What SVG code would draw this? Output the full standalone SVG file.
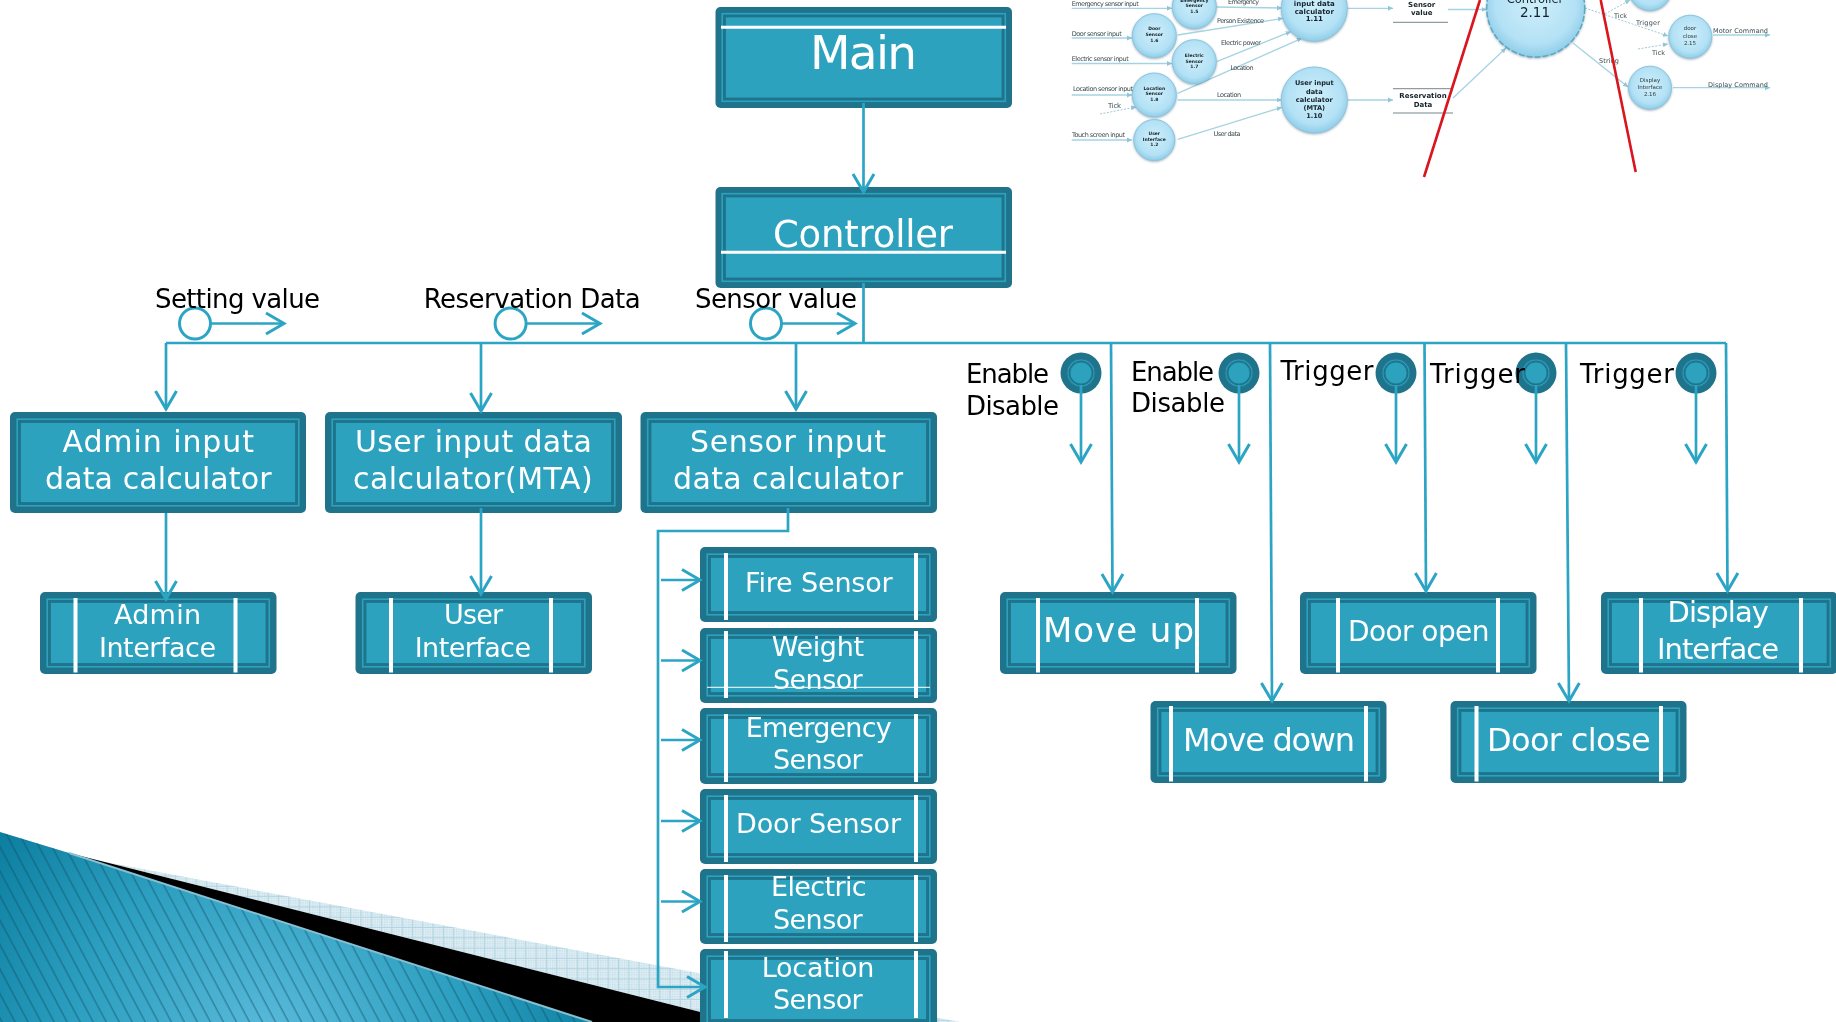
<svg xmlns="http://www.w3.org/2000/svg" width="1836" height="1022" viewBox="0 0 1836 1022">
<style>
text{font-family:"DejaVu Sans","Liberation Sans",sans-serif}
.o{fill:#1f748c}.b{fill:#2ca2bf;stroke:#1f748c;stroke-width:.8}.d{fill:#1f748c}.f{fill:#2ca2bf;stroke:#1f748c;stroke-width:.8}
.w{stroke:#fff;stroke-width:4;fill:none}
.n text{fill:#fff;font-size:27px}
.k{fill:#000;font-size:26px}
.c{fill:none;stroke:#2ca5c4;stroke-width:2.700}
.a{marker-end:url(#v)}
.t text{fill:#3c4a4e;font-size:6.500px}
.t .h{fill:#14222a;font-weight:bold;text-anchor:middle}
.t .m{fill:#2c3a40;text-anchor:middle;font-size:5.500px}
.ta{fill:none;stroke:#a5d3e2;stroke-width:1.300;marker-end:url(#tv)}
.td{fill:none;stroke:#9cc8da;stroke-width:1;stroke-dasharray:2 1.500;marker-end:url(#tv)}
.bb{fill:url(#bub);stroke:#8cc6de;stroke-width:1;filter:drop-shadow(.8px 1.5px 1px rgba(40,70,90,.4))}
.r{stroke:#d8131f;stroke-width:2.600;fill:none}
</style>
<defs>
<marker id="v" markerUnits="userSpaceOnUse" markerWidth="24" markerHeight="28" refX="20" refY="13" orient="auto"><path d="M2 2.500L20 13L2 23.500" fill="none" stroke="#2ca5c4" stroke-width="3"/></marker>
<marker id="tv" markerUnits="userSpaceOnUse" markerWidth="6" markerHeight="6" refX="5" refY="3" orient="auto"><path d="M0 .5L5 3L0 5.500z" fill="#8fc6d9"/></marker>
<radialGradient id="bub" cx=".5" cy=".45" r=".55"><stop offset="0" stop-color="#cfeffb"/><stop offset=".75" stop-color="#b3e1f5"/><stop offset="1" stop-color="#8fcde9"/></radialGradient>
<radialGradient id="wedge" gradientUnits="userSpaceOnUse" cx="270" cy="1045" r="350"><stop offset="0" stop-color="#5cbbdb"/><stop offset=".55" stop-color="#2d9fc0"/><stop offset="1" stop-color="#0a7c9d"/></radialGradient>
<pattern id="stripes" width="11.500" height="40" patternUnits="userSpaceOnUse" patternTransform="rotate(-28)"><path d="M5 0V40" stroke="#0d4f66" stroke-opacity=".5" stroke-width="1.400"/></pattern>
<pattern id="hatch" width="10.300" height="10.300" patternUnits="userSpaceOnUse"><rect width="10.300" height="10.300" fill="#dcecf2"/><path d="M0 .5H10.300M.5 0V10.300" stroke="#b4d5e3" stroke-width="1"/></pattern>
<pattern id="dots" width="2.400" height="2.400" patternUnits="userSpaceOnUse"><rect width="1.200" height="1.200" fill="#a9cfdd" fill-opacity=".55"/></pattern>
<filter id="blur" x="-2%" y="-2%" width="104%" height="104%"><feGaussianBlur stdDeviation=".55"/></filter>
</defs>

<g id="background">
<polygon points="105,862 960,1022 740,1022" fill="url(#hatch)"/>
<polygon points="105,862 960,1022 740,1022" fill="url(#dots)"/>
<polygon points="69,853 740,1022 592,1022" fill="#000"/>
<polygon points="0,832 69,853 592,1022 0,1022" fill="url(#wedge)"/>
<polygon points="0,832 69,853 592,1022 0,1022" fill="url(#stripes)"/>
<path d="M69 853L592 1022" stroke="#86c0d2" stroke-width="2" fill="none"/>
</g>

<g id="thumbnail" class="t" filter="url(#blur)">
<path class="ta" d="M1071.700 8.300H1172"/><path class="ta" d="M1071.700 38H1132"/><path class="ta" d="M1071.700 63.500H1172"/><path class="ta" d="M1071.700 95H1132"/><path class="ta" d="M1071.700 140H1132"/>
<path class="td" d="M1100 114L1136 107"/>
<path class="ta" d="M1216 7L1282 8"/><path class="ta" d="M1177.700 35L1283 18.300"/><path class="ta" d="M1216.700 61.700L1290.700 31.700"/><path class="ta" d="M1177.700 93.300L1301.700 38.300"/><path class="ta" d="M1177.700 100H1281.700"/><path class="ta" d="M1177.700 139.300L1281.700 107.300"/>
<path class="ta" d="M1347.700 8.300H1393"/><path class="ta" d="M1347.700 100H1393"/>
<path class="ta" d="M1448 9.500H1486.700"/><path class="ta" d="M1453 98L1506 48"/>
<path class="td" d="M1585 8L1668 36"/><path class="td" d="M1638 49L1668 44"/><path class="td" d="M1605 14L1630 0"/>
<path class="ta" d="M1573 43L1628 87"/><path class="ta" d="M1713 35H1770"/><path class="ta" d="M1673 87.700H1770"/>
<path d="M1393 22.300H1448M1393 88.700H1452M1393 113H1453" stroke="#77858a" stroke-width="1" fill="none"/>
<circle class="bb" cx="1194.300" cy="6.700" r="22"/><circle class="bb" cx="1154.300" cy="35.700" r="22"/><circle class="bb" cx="1194.300" cy="61.700" r="22"/><circle class="bb" cx="1154.300" cy="95" r="22"/><circle class="bb" cx="1154.300" cy="140" r="20.500"/>
<circle class="bb" cx="1314.300" cy="8.300" r="33"/><circle class="bb" cx="1314.300" cy="100" r="33"/>
<circle class="bb" cx="1535.700" cy="8" r="49" stroke-dasharray="6 2" style="stroke:#5aa9c4;stroke-width:1.500"/>
<circle class="bb" cx="1650" cy="-11" r="21.500"/><circle class="bb" cx="1690.300" cy="36.700" r="21.500"/><circle class="bb" cx="1650" cy="87.700" r="21.500"/>
<text x="1071.700" y="6" textLength="67">Emergency sensor input</text>
<text x="1071.700" y="35.500" textLength="50">Door sensor input</text>
<text x="1071.700" y="60.700" textLength="57">Electric sensor input</text>
<text x="1073" y="91" textLength="60">Location sensor input</text>
<text x="1072" y="137" textLength="53">Touch screen input</text>
<text x="1108" y="108" textLength="13" style="font-size:7px">Tick</text>
<text x="1228" y="4" textLength="31">Emergency</text>
<text x="1217" y="23" textLength="47">Person Existence</text>
<text x="1221" y="45" textLength="40">Electric power</text>
<text x="1230.500" y="70" textLength="23">Location</text>
<text x="1217" y="97" textLength="24">Location</text>
<text x="1213.500" y="136" textLength="27">User data</text>
<text x="1636" y="25" textLength="24">Trigger</text>
<text x="1614" y="18" textLength="13">Tick</text>
<text x="1652" y="55" textLength="13">Tick</text>
<text x="1599" y="63" textLength="20">String</text>
<text x="1713" y="33" textLength="55">Motor Command</text>
<text x="1708" y="87" textLength="60">Display Command</text>
<text class="h" style="font-size:4.500px" x="1194.300" y="2">Emergency</text><text class="h" style="font-size:4.500px" x="1194.300" y="6.500">Sensor</text><text class="h" style="font-size:4.500px" x="1194.300" y="12.500">1.5</text>
<text class="h" style="font-size:4.500px" x="1154.300" y="30">Door</text><text class="h" style="font-size:4.500px" x="1154.300" y="36">Sensor</text><text class="h" style="font-size:4.500px" x="1154.300" y="42">1.6</text>
<text class="h" style="font-size:4.500px" x="1194.300" y="57">Electric</text><text class="h" style="font-size:4.500px" x="1194.300" y="62.500">Sensor</text><text class="h" style="font-size:4.500px" x="1194.300" y="68">1.7</text>
<text class="h" style="font-size:4.500px" x="1154.300" y="89.500">Location</text><text class="h" style="font-size:4.500px" x="1154.300" y="95">Sensor</text><text class="h" style="font-size:4.500px" x="1154.300" y="101">1.8</text>
<text class="h" style="font-size:4.500px" x="1154.300" y="135">User</text><text class="h" style="font-size:4.500px" x="1154.300" y="140.500">Interface</text><text class="h" style="font-size:4.500px" x="1154.300" y="146">1.2</text>
<text class="h" style="font-size:7px" x="1314.300" y="5.500">input data</text><text class="h" style="font-size:7px" x="1314.300" y="13.500">calculator</text><text class="h" style="font-size:7px" x="1314.300" y="21">1.11</text>
<text class="h" style="font-size:6.600px" x="1314.300" y="85">User input</text><text class="h" style="font-size:6.600px" x="1314.300" y="93.500">data</text><text class="h" style="font-size:6.600px" x="1314.300" y="101.500">calculator</text><text class="h" style="font-size:6.600px" x="1314.300" y="109.500">(MTA)</text><text class="h" style="font-size:6.600px" x="1314.300" y="118">1.10</text>
<text class="h" style="font-size:7px" x="1421.700" y="7">Sensor</text><text class="h" style="font-size:7px" x="1421.700" y="15">value</text>
<text class="h" style="font-size:7px" x="1423" y="98">Reservation</text><text class="h" style="font-size:7px" x="1423" y="106.700">Data</text>
<text class="h" style="font-size:11.500px;font-weight:normal" x="1535" y="3">Controller</text><text class="h" style="font-size:13.500px;font-weight:normal" x="1535" y="17">2.11</text>
<text class="m" x="1690" y="29.500">door</text><text class="m" x="1690" y="37.500">close</text><text class="m" x="1690" y="45">2.15</text>
<text class="m" x="1650" y="81.500">Display</text><text class="m" x="1650" y="88.500">Interface</text><text class="m" x="1650" y="95.500">2.16</text>
<path class="r" d="M1424 177L1480 0"/><path class="r" d="M1635.700 172L1600.700 0"/>
</g>

<g id="main" class="n"><rect class="o" x="715.500" y="7" width="296.500" height="101" rx="5"/><rect class="b" x="721" y="12.500" width="285.500" height="90"/><rect class="d" x="723" y="14.500" width="281.500" height="86"/><rect class="f" x="725.500" y="17" width="276.500" height="81"/><path class="w" style="stroke-width:3" d="M721 27.300H1006"/><text x="810" y="69.300" textLength="107" style="font-size:47px">Main</text></g>
<g id="controller" class="n"><rect class="o" x="715.500" y="187" width="296.500" height="101" rx="5"/><rect class="b" x="721" y="192.500" width="285.500" height="90"/><rect class="d" x="723" y="194.500" width="281.500" height="86"/><rect class="f" x="725.500" y="197" width="276.500" height="81"/><path class="w" style="stroke-width:3" d="M721 252.300H1006"/><text x="773" y="246.700" textLength="180" style="font-size:37px">Controller</text></g>

<g id="admin-calc" class="n"><rect class="o" x="10" y="412" width="296" height="101" rx="5"/><rect class="b" x="16" y="418" width="284" height="89"/><rect class="d" x="18" y="420" width="280" height="85"/><rect class="f" x="20.500" y="422.500" width="275" height="80"/><text x="62.500" y="451.700" textLength="191.500" style="font-size:30px">Admin input</text><text x="45" y="489" textLength="226.500" style="font-size:30px">data calculator</text></g>
<g id="user-calc" class="n"><rect class="o" x="325" y="412" width="297" height="101" rx="5"/><rect class="b" x="331" y="418" width="285" height="89"/><rect class="d" x="333" y="420" width="281" height="85"/><rect class="f" x="335.500" y="422.500" width="276" height="80"/><text x="355" y="451.700" textLength="237" style="font-size:30px">User input data</text><text x="353" y="489" textLength="239.600" style="font-size:30px">calculator(MTA)</text></g>
<g id="sensor-calc" class="n"><rect class="o" x="640.500" y="412" width="296.500" height="101" rx="5"/><rect class="b" x="646.500" y="418" width="284.500" height="89"/><rect class="d" x="648.500" y="420" width="280.500" height="85"/><rect class="f" x="651" y="422.500" width="275.500" height="80"/><text x="690" y="451.700" textLength="196" style="font-size:30px">Sensor input</text><text x="673" y="489" textLength="230" style="font-size:30px">data calculator</text></g>

<g id="admin-interface" class="n"><rect class="o" x="40" y="592" width="236.500" height="82" rx="5"/><rect class="b" x="46" y="598" width="224.500" height="70"/><rect class="d" x="48" y="600" width="220.500" height="66"/><rect class="f" x="50.500" y="602.500" width="215.500" height="61"/><path class="w" d="M75.500 598V672.500M235.500 598V672.500"/><text x="114" y="624.300" textLength="87">Admin</text><text x="99" y="656.700" textLength="117">Interface</text></g>
<g id="user-interface" class="n"><rect class="o" x="355.500" y="592" width="236.500" height="82" rx="5"/><rect class="b" x="361.500" y="598" width="224.500" height="70"/><rect class="d" x="363.500" y="600" width="220.500" height="66"/><rect class="f" x="366" y="602.500" width="215.500" height="61"/><path class="w" d="M391 598V672.500M551 598V672.500"/><text x="444" y="624.300" textLength="59">User</text><text x="414.700" y="656.700" textLength="116.300">Interface</text></g>

<g id="fire-sensor" class="n"><rect class="o" x="700" y="547" width="237" height="75" rx="5"/><rect class="b" x="706" y="553" width="225" height="63"/><rect class="d" x="708" y="555" width="221" height="59"/><rect class="f" x="710.500" y="557.500" width="216" height="54"/><path class="w" d="M726 553V620M916 553V620"/><text x="745" y="591.700" textLength="147.700">Fire Sensor</text></g>
<g id="weight-sensor" class="n"><rect class="o" x="700" y="628" width="237" height="75" rx="5"/><rect class="b" x="706" y="634" width="225" height="63"/><rect class="d" x="708" y="636" width="221" height="59"/><rect class="f" x="710.500" y="638.500" width="216" height="54"/><path class="w" d="M726 631V698M916 631V698"/><path d="M707 687.300H930" stroke="#fff" stroke-width="1"/><text x="771.700" y="656" textLength="92.300">Weight</text><text x="773" y="689" textLength="89.700">Sensor</text></g>
<g id="emergency-sensor" class="n"><rect class="o" x="700" y="708" width="237" height="76" rx="5"/><rect class="b" x="706" y="714" width="225" height="64"/><rect class="d" x="708" y="716" width="221" height="60"/><rect class="f" x="710.500" y="718.500" width="216" height="55"/><path class="w" d="M726 714V782M916 714V782"/><text x="745.700" y="736.700" textLength="146">Emergency</text><text x="773" y="769.300" textLength="89.700">Sensor</text></g>
<g id="door-sensor" class="n"><rect class="o" x="700" y="789" width="237" height="75" rx="5"/><rect class="b" x="706" y="795" width="225" height="63"/><rect class="d" x="708" y="797" width="221" height="59"/><rect class="f" x="710.500" y="799.500" width="216" height="54"/><path class="w" d="M726 795V862M916 795V862"/><text x="736" y="833.300" textLength="165">Door Sensor</text></g>
<g id="electric-sensor" class="n"><rect class="o" x="700" y="869" width="237" height="75" rx="5"/><rect class="b" x="706" y="875" width="225" height="63"/><rect class="d" x="708" y="877" width="221" height="59"/><rect class="f" x="710.500" y="879.500" width="216" height="54"/><path class="w" d="M726 875V942M916 875V942"/><text x="771" y="896" textLength="95.700">Electric</text><text x="773" y="929.300" textLength="89.700">Sensor</text></g>
<g id="location-sensor" class="n"><rect class="o" x="700" y="949" width="237" height="80" rx="5"/><rect class="b" x="706" y="955" width="225" height="70"/><rect class="d" x="708" y="957" width="221" height="66"/><rect class="f" x="710.500" y="959.500" width="216" height="60"/><path class="w" d="M726 951V1018M916 951V1018"/><text x="761.700" y="976.700" textLength="112.600">Location</text><text x="773" y="1009.300" textLength="89.700">Sensor</text></g>

<g id="move-up" class="n"><rect class="o" x="1000" y="592" width="236.500" height="82" rx="5"/><rect class="b" x="1006" y="598" width="224.500" height="70"/><rect class="d" x="1008" y="600" width="220.500" height="66"/><rect class="f" x="1010.500" y="602.500" width="215.500" height="61"/><path class="w" d="M1038 598V672.500M1197 598V672.500"/><text x="1043" y="641.700" textLength="151" style="font-size:34px">Move up</text></g>
<g id="door-open" class="n"><rect class="o" x="1300" y="592" width="236.500" height="82" rx="5"/><rect class="b" x="1306" y="598" width="224.500" height="70"/><rect class="d" x="1308" y="600" width="220.500" height="66"/><rect class="f" x="1310.500" y="602.500" width="215.500" height="61"/><path class="w" d="M1338 598V672.500M1498 598V672.500"/><text x="1348" y="640.700" textLength="141.500" style="font-size:28px">Door open</text></g>
<g id="display-interface" class="n"><rect class="o" x="1601" y="592" width="236.500" height="82" rx="5"/><rect class="b" x="1607" y="598" width="224.500" height="70"/><rect class="d" x="1609" y="600" width="220.500" height="66"/><rect class="f" x="1611.500" y="602.500" width="215.500" height="61"/><path class="w" d="M1641 598V672.500M1801 598V672.500"/><text x="1667.500" y="621.700" textLength="101.500" style="font-size:29px">Display</text><text x="1657" y="659" textLength="122" style="font-size:29px">Interface</text></g>
<g id="move-down" class="n"><rect class="o" x="1150.500" y="701" width="236" height="82" rx="5"/><rect class="b" x="1156.500" y="707" width="224" height="70"/><rect class="d" x="1158.500" y="709" width="220" height="66"/><rect class="f" x="1161" y="711.500" width="215" height="61"/><path class="w" d="M1171 706V781.500M1366 706V781.500"/><text x="1183" y="750.700" textLength="172" style="font-size:32px">Move down</text></g>
<g id="door-close" class="n"><rect class="o" x="1450.500" y="701" width="236" height="82" rx="5"/><rect class="b" x="1456.500" y="707" width="224" height="70"/><rect class="d" x="1458.500" y="709" width="220" height="66"/><rect class="f" x="1461" y="711.500" width="215" height="61"/><path class="w" d="M1476.500 706V781.500M1661 706V781.500"/><text x="1487" y="750.700" textLength="163.600" style="font-size:32px">Door close</text></g>

<g id="connectors">
<path class="c a" d="M863.500 103V192"/>
<path class="c" d="M863.500 283V343M166 343H1726"/>
<path class="c a" d="M166 343V409"/><path class="c a" d="M481 343V411"/><path class="c a" d="M796 343V409"/>
<path class="c a" d="M1111 343L1112.500 592"/><path class="c a" d="M1270 343L1272 701"/><path class="c a" d="M1424.500 343L1426 591"/><path class="c a" d="M1566 343L1569 701"/><path class="c a" d="M1726 343L1727.500 591"/>
<path class="c a" d="M166 513V599"/><path class="c a" d="M481 508V594"/>
<path class="c a" d="M788 508V531H658V987H705"/>
<path class="c a" d="M661 580H700"/><path class="c a" d="M661 660.500H700"/><path class="c a" d="M661 740H700"/><path class="c a" d="M661 821H700"/><path class="c a" d="M661 901.500H700"/>
<circle cx="195" cy="323.500" r="15.500" fill="#fff" stroke="#2ca5c4" stroke-width="3"/><path class="c a" d="M211 323.500H284"/>
<circle cx="510.600" cy="323.500" r="15.500" fill="#fff" stroke="#2ca5c4" stroke-width="3"/><path class="c a" d="M526 323.500H600"/>
<circle cx="766" cy="323.500" r="15.500" fill="#fff" stroke="#2ca5c4" stroke-width="3"/><path class="c a" d="M782 323.500H855"/>
</g>

<g id="signal-1"><circle class="o" cx="1081" cy="373" r="20.500"/><circle class="b" cx="1081" cy="373" r="14"/><circle class="d" cx="1081" cy="373" r="12.500"/><circle class="f" cx="1081" cy="373" r="11"/><path class="c a" d="M1081 385V462"/></g>
<g id="signal-2"><circle class="o" cx="1239" cy="373" r="20.500"/><circle class="b" cx="1239" cy="373" r="14"/><circle class="d" cx="1239" cy="373" r="12.500"/><circle class="f" cx="1239" cy="373" r="11"/><path class="c a" d="M1239 385V462"/></g>
<g id="signal-3"><circle class="o" cx="1396" cy="373" r="20.500"/><circle class="b" cx="1396" cy="373" r="14"/><circle class="d" cx="1396" cy="373" r="12.500"/><circle class="f" cx="1396" cy="373" r="11"/><path class="c a" d="M1396 385V462"/></g>
<g id="signal-4"><circle class="o" cx="1536" cy="373" r="20.500"/><circle class="b" cx="1536" cy="373" r="14"/><circle class="d" cx="1536" cy="373" r="12.500"/><circle class="f" cx="1536" cy="373" r="11"/><path class="c a" d="M1536 385V462"/></g>
<g id="signal-5"><circle class="o" cx="1696" cy="373" r="20.500"/><circle class="b" cx="1696" cy="373" r="14"/><circle class="d" cx="1696" cy="373" r="12.500"/><circle class="f" cx="1696" cy="373" r="11"/><path class="c a" d="M1696 385V462"/></g>

<g id="labels">
<text class="k" x="155" y="308" textLength="165">Setting value</text>
<text class="k" x="423.700" y="308" textLength="217">Reservation Data</text>
<text class="k" x="695" y="308" textLength="162">Sensor value</text>
<text class="k" x="966" y="383" textLength="83">Enable</text><text class="k" x="966" y="415" textLength="93">Disable</text>
<text class="k" x="1131" y="381" textLength="83">Enable</text><text class="k" x="1131" y="412" textLength="94">Disable</text>
<text class="k" x="1280.500" y="380" textLength="93">Trigger</text>
<text class="k" x="1430" y="383" textLength="95">Trigger</text>
<text class="k" x="1580" y="383" textLength="94">Trigger</text>
</g>
</svg>
